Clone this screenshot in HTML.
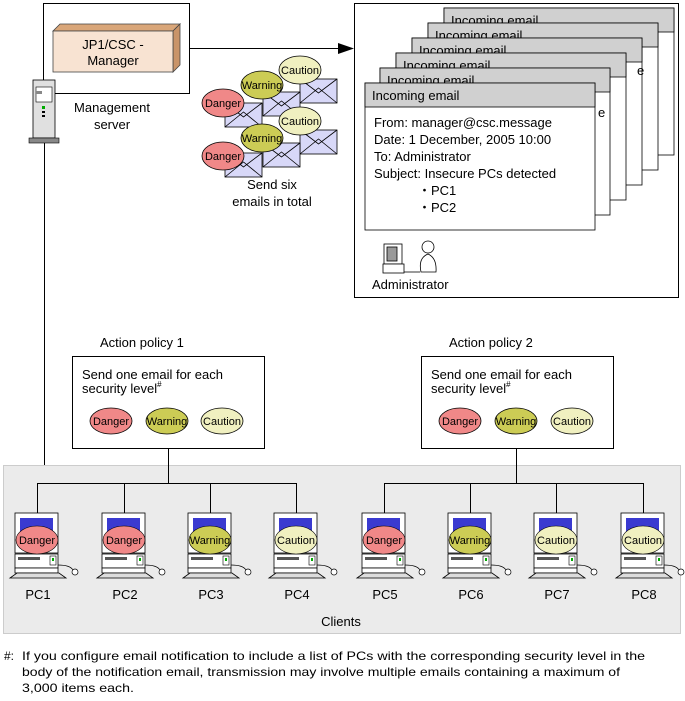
<!DOCTYPE html>
<html><head><meta charset="utf-8"><style>
html,body{margin:0;padding:0;background:#fff}
svg{display:block;font-family:"Liberation Sans",sans-serif}
</style></head><body>
<svg width="685" height="701" viewBox="0 0 685 701" xmlns="http://www.w3.org/2000/svg">
<defs>
<g id="env"><rect x="0" y="0" width="37" height="24" fill="#d8d8f8" stroke="#000" stroke-width="0.8"/><path d="M0 24 L18.5 9 L37 24 M0 0 L18.5 14 L37 0" fill="none" stroke="#000" stroke-width="0.8"/></g>
<g id="pc">
<rect x="0" y="0" width="43" height="40" fill="#fff" stroke="#000" stroke-width="0.8"/>
<rect x="5" y="5" width="33" height="28" fill="#3a3ad0"/>
<rect x="0" y="41" width="43" height="14" fill="#fff" stroke="#000" stroke-width="0.8"/>
<rect x="3" y="44" width="22" height="3" fill="#555"/>
<rect x="35" y="43" width="6" height="9" fill="#fff" stroke="#000" stroke-width="0.6"/>
<rect x="37" y="45" width="2" height="3" fill="#0a0"/>
<rect x="0" y="55" width="43" height="5" fill="#fff" stroke="#000" stroke-width="0.8"/>
<path d="M-5 65 L2 60 L44 60 L51 65 Z" fill="#ddd" stroke="#000" stroke-width="0.8"/>
<path d="M43 52 Q55 52 58 57" fill="none" stroke="#000" stroke-width="0.7"/>
<ellipse cx="60" cy="59" rx="3" ry="3" fill="#fff" stroke="#000" stroke-width="0.7"/>
</g>
</defs>

<!-- management server -->
<rect x="43.5" y="3.5" width="146" height="90" fill="#fff" stroke="#000"/>
<path d="M53 31 L60 24 L180 24 L173 31 Z" fill="#d9a679" stroke="#444" stroke-width="0.8"/>
<path d="M173 31 L180 24 L180 65 L173 72 Z" fill="#c99469" stroke="#444" stroke-width="0.8"/>
<rect x="53" y="31" width="120" height="41" fill="#f8e3d2" stroke="#444" stroke-width="0.8"/>
<text x="113" y="49" font-size="13" text-anchor="middle">JP1/CSC -</text>
<text x="113" y="65" font-size="13" text-anchor="middle">Manager</text>
<text x="112" y="112" font-size="13" text-anchor="middle">Management</text>
<text x="112" y="129" font-size="13" text-anchor="middle">server</text>
<!-- tower -->
<rect x="33" y="80" width="22" height="58" fill="#e0e0e0" stroke="#000" stroke-width="0.8"/>
<rect x="36" y="87" width="16" height="15" fill="#fff" stroke="#000" stroke-width="0.6"/>
<rect x="36" y="91" width="6" height="3" fill="#888"/>
<rect x="42" y="106" width="3" height="3" fill="#0a0"/>
<rect x="42" y="111" width="3" height="2" fill="#000"/>
<rect x="42" y="115" width="3" height="2" fill="#000"/>
<rect x="29" y="138" width="30" height="5" fill="#888" stroke="#000" stroke-width="0.6"/>
<line x1="44.5" y1="143" x2="44.5" y2="466" stroke="#000"/>

<!-- arrow -->
<line x1="189" y1="48.5" x2="340" y2="48.5" stroke="#000"/>
<path d="M338 43 L354 48.5 L338 54 Z" fill="#000"/>

<!-- envelopes -->
<use href="#env" x="300" y="79"/>
<use href="#env" x="263" y="92"/>
<use href="#env" x="225" y="103"/>
<use href="#env" x="300" y="130"/>
<use href="#env" x="263" y="143"/>
<use href="#env" x="225" y="153"/>
<g stroke="#000" stroke-width="0.8" font-size="11" text-anchor="middle">
<ellipse cx="300" cy="70" rx="21" ry="14" fill="#f0f0c0"/><text x="300" y="74" stroke="none">Caution</text>
<ellipse cx="262" cy="85" rx="21" ry="14" fill="#cccc55"/><text x="262" y="89" stroke="none">Warning</text>
<ellipse cx="223" cy="103" rx="21" ry="14" fill="#f08888"/><text x="223" y="107" stroke="none">Danger</text>
<ellipse cx="300" cy="121" rx="21" ry="14" fill="#f0f0c0"/><text x="300" y="125" stroke="none">Caution</text>
<ellipse cx="262" cy="138" rx="21" ry="14" fill="#cccc55"/><text x="262" y="142" stroke="none">Warning</text>
<ellipse cx="223" cy="156" rx="21" ry="14" fill="#f08888"/><text x="223" y="160" stroke="none">Danger</text>
</g>
<text x="272" y="189" font-size="13" text-anchor="middle">Send six</text>
<text x="272" y="206" font-size="13" text-anchor="middle">emails in total</text>

<!-- right box -->
<rect x="354.5" y="3.5" width="324" height="294" fill="#fff" stroke="#000"/>
<g stroke="#000" stroke-width="0.8" font-size="13">
<rect x="444" y="8" width="230" height="147" fill="#fff"/><rect x="444" y="8" width="230" height="24" fill="#d0d0d0"/><text x="451" y="25" stroke="none">Incoming email</text>
<rect x="428" y="23" width="230" height="147" fill="#fff"/><rect x="428" y="23" width="230" height="24" fill="#d0d0d0"/><text x="435" y="40" stroke="none">Incoming email</text>
<rect x="412" y="38" width="230" height="147" fill="#fff"/><rect x="412" y="38" width="230" height="24" fill="#d0d0d0"/><text x="419" y="55" stroke="none">Incoming email</text>
<rect x="396" y="53" width="230" height="147" fill="#fff"/><rect x="396" y="53" width="230" height="24" fill="#d0d0d0"/><text x="403" y="70" stroke="none">Incoming email</text>
<text x="637" y="75" stroke="none">e</text>
<rect x="380" y="68" width="230" height="147" fill="#fff"/><rect x="380" y="68" width="230" height="24" fill="#d0d0d0"/><text x="387" y="85" stroke="none">Incoming email</text>
<text x="598" y="117" stroke="none">e</text>
<rect x="365" y="83" width="230" height="147" fill="#fff"/><rect x="365" y="83" width="230" height="24" fill="#d0d0d0"/><text x="372" y="100" stroke="none">Incoming email</text>
</g>
<g font-size="13">
<text x="374" y="127">From: manager@csc.message</text>
<text x="374" y="144">Date: 1 December, 2005 10:00</text>
<text x="374" y="161">To: Administrator</text>
<text x="374" y="178">Subject: Insecure PCs detected</text>
<text x="418" y="195">・PC1</text>
<text x="418" y="212">・PC2</text>
<text x="372" y="289">Administrator</text>
</g>
<!-- admin icon -->
<g stroke="#000" stroke-width="0.8">
<rect x="384" y="244" width="18" height="20" fill="#fff"/>
<rect x="387" y="247" width="10" height="14" fill="#999"/>
<rect x="383" y="264" width="21" height="9" fill="#fff"/>
<path d="M404 272 L420 272" />
<circle cx="428" cy="247" r="6" fill="#fff"/>
<path d="M421 272 Q418 258 428 254 Q437 258 436 272 Z" fill="#fff"/>
</g>

<!-- action policies -->
<text x="100" y="347" font-size="13">Action policy 1</text>
<text x="449" y="347" font-size="13">Action policy 2</text>
<rect x="72.5" y="356.5" width="192" height="92" fill="#fff" stroke="#000"/>
<rect x="421.5" y="356.5" width="192" height="92" fill="#fff" stroke="#000"/>
<g font-size="13">
<text x="82" y="379">Send one email for each</text>
<text x="82" y="393">security level<tspan font-size="8" dy="-6">#</tspan></text>
<text x="431" y="379">Send one email for each</text>
<text x="431" y="393">security level<tspan font-size="8" dy="-6">#</tspan></text>
</g>
<g stroke="#000" stroke-width="0.8" font-size="11" text-anchor="middle">
<ellipse cx="111" cy="421" rx="21" ry="13" fill="#f08888"/><text x="111" y="425" stroke="none">Danger</text>
<ellipse cx="167" cy="421" rx="21" ry="13" fill="#cccc55"/><text x="167" y="425" stroke="none">Warning</text>
<ellipse cx="222" cy="421" rx="21" ry="13" fill="#f0f0c0"/><text x="222" y="425" stroke="none">Caution</text>
<ellipse cx="460" cy="421" rx="21" ry="13" fill="#f08888"/><text x="460" y="425" stroke="none">Danger</text>
<ellipse cx="516" cy="421" rx="21" ry="13" fill="#cccc55"/><text x="516" y="425" stroke="none">Warning</text>
<ellipse cx="572" cy="421" rx="21" ry="13" fill="#f0f0c0"/><text x="572" y="425" stroke="none">Caution</text>
</g>

<!-- clients panel -->
<rect x="3.5" y="465.5" width="677" height="168" fill="#ebebeb" stroke="#ccc"/>
<g stroke="#000" fill="none">
<line x1="168.5" y1="448" x2="168.5" y2="483"/>
<line x1="516.5" y1="448" x2="516.5" y2="483"/>
<line x1="37" y1="483.5" x2="297" y2="483.5"/>
<line x1="384" y1="483.5" x2="644" y2="483.5"/>
<line x1="37.5" y1="483" x2="37.5" y2="513"/>
<line x1="124.5" y1="483" x2="124.5" y2="513"/>
<line x1="210.5" y1="483" x2="210.5" y2="513"/>
<line x1="296.5" y1="483" x2="296.5" y2="513"/>
<line x1="384.5" y1="483" x2="384.5" y2="513"/>
<line x1="470.5" y1="483" x2="470.5" y2="513"/>
<line x1="556.5" y1="483" x2="556.5" y2="513"/>
<line x1="643.5" y1="483" x2="643.5" y2="513"/>
</g>
<use href="#pc" x="15" y="513"/>
<use href="#pc" x="102" y="513"/>
<use href="#pc" x="188" y="513"/>
<use href="#pc" x="274" y="513"/>
<use href="#pc" x="362" y="513"/>
<use href="#pc" x="448" y="513"/>
<use href="#pc" x="534" y="513"/>
<use href="#pc" x="621" y="513"/>
<g stroke="#000" stroke-width="0.6" font-size="11" text-anchor="middle">
<ellipse cx="37" cy="540" rx="21" ry="14" fill="#f08888"/><text x="37" y="544" stroke="none">Danger</text>
<ellipse cx="124" cy="540" rx="21" ry="14" fill="#f08888"/><text x="124" y="544" stroke="none">Danger</text>
<ellipse cx="210" cy="540" rx="21" ry="14" fill="#cccc55"/><text x="210" y="544" stroke="none">Warning</text>
<ellipse cx="296" cy="540" rx="21" ry="14" fill="#f0f0c0"/><text x="296" y="544" stroke="none">Caution</text>
<ellipse cx="384" cy="540" rx="21" ry="14" fill="#f08888"/><text x="384" y="544" stroke="none">Danger</text>
<ellipse cx="470" cy="540" rx="21" ry="14" fill="#cccc55"/><text x="470" y="544" stroke="none">Warning</text>
<ellipse cx="556" cy="540" rx="21" ry="14" fill="#f0f0c0"/><text x="556" y="544" stroke="none">Caution</text>
<ellipse cx="643" cy="540" rx="21" ry="14" fill="#f0f0c0"/><text x="643" y="544" stroke="none">Caution</text>
</g>
<g font-size="13" text-anchor="middle">
<text x="38" y="599">PC1</text><text x="125" y="599">PC2</text><text x="211" y="599">PC3</text><text x="297" y="599">PC4</text>
<text x="385" y="599">PC5</text><text x="471" y="599">PC6</text><text x="557" y="599">PC7</text><text x="644" y="599">PC8</text>
<text x="341" y="626">Clients</text>
</g>

<!-- footnote -->
<g font-size="12">
<text x="4" y="660">#:</text>
<text x="22" y="660" textLength="623" lengthAdjust="spacingAndGlyphs">If you configure email notification to include a list of PCs with the corresponding security level in the</text>
<text x="22" y="676" textLength="598" lengthAdjust="spacingAndGlyphs">body of the notification email, transmission may involve multiple emails containing a maximum of</text>
<text x="22" y="692" textLength="112" lengthAdjust="spacingAndGlyphs">3,000 items each.</text>
</g>
</svg>
</body></html>
